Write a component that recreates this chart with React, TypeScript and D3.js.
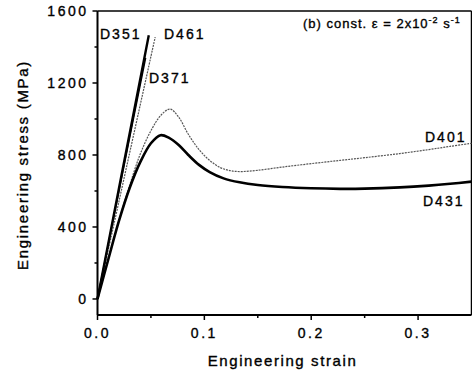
import React from "react";
import * as d3 from "d3";

type Pt = [number, number];

const d351: Pt[] = [[0, 0], [0.02, 612], [0.048, 1465]];
const d371: Pt[] = [[0, 0], [0.02, 598], [0.045, 1340]];
const d461: Pt[] = [[0, 0], [0.02, 540], [0.054, 1455]];
const d401: Pt[] = [
  [0, 0], [0.01, 220], [0.02, 435], [0.03, 630], [0.04, 805], [0.05, 935],
  [0.06, 1025], [0.068, 1055], [0.076, 1010], [0.085, 915], [0.095, 830],
  [0.105, 770], [0.115, 730], [0.125, 712], [0.135, 708], [0.15, 715],
  [0.173, 733], [0.2, 752], [0.227, 770], [0.25, 785], [0.283, 808],
  [0.31, 830], [0.33, 848], [0.35, 865],
];
const d431: Pt[] = [
  [0, 0], [0.01, 218], [0.02, 432], [0.03, 615], [0.04, 760], [0.05, 865],
  [0.059, 910], [0.067, 895], [0.076, 855], [0.085, 800], [0.095, 745],
  [0.105, 705], [0.118, 670], [0.133, 648], [0.15, 633], [0.173, 622],
  [0.2, 615], [0.227, 612], [0.25, 613], [0.283, 620], [0.31, 630],
  [0.33, 640], [0.35, 652],
];

const xTicks = [0, 0.1, 0.2, 0.3];
const xMinor = [0.05, 0.15, 0.25];
const yTicks = [0, 400, 800, 1200, 1600];
const yMinor = [200, 600, 1000, 1400];

const FONT = "'Liberation Sans', Arial, sans-serif";

export default function App() {
  const x = d3.scaleLinear().domain([0, 0.35]).range([97.5, 471.5]);
  const y = d3.scaleLinear().domain([-89, 1600]).range([315, 11]);
  const line = d3
    .line<Pt>()
    .x((d) => x(d[0]))
    .y((d) => y(d[1]))
    .curve(d3.curveCatmullRom.alpha(0.5));

  const x0 = x(0);
  const yb = y(-89);
  const xr = x(0.35);
  const yt = y(1600);

  const txt = { fill: "#000", stroke: "#000", strokeWidth: 0.35 };

  return (
    <svg
      width={472}
      height={372}
      style={{ position: "absolute", left: 0, top: 0, background: "#fff" }}
      fontFamily={FONT}
    >
      <rect x={0} y={0} width={472} height={372} fill="#fff" />
      {/* frame */}
      <line x1={x0} x2={xr} y1={yt} y2={yt} stroke="#000" strokeWidth={1.5} />
      <line x1={xr} x2={xr} y1={yt} y2={yb} stroke="#000" strokeWidth={1.5} />
      <line x1={x0} x2={xr} y1={yb} y2={yb} stroke="#000" strokeWidth={2} />
      <line x1={x0} x2={x0} y1={yt} y2={yb} stroke="#000" strokeWidth={2} />

      {/* x ticks */}
      {xTicks.map((t) => (
        <g key={"xt" + t}>
          <line x1={x(t)} x2={x(t)} y1={yb} y2={yb + 5} stroke="#000" strokeWidth={1.5} />
          <text
            x={x(t)}
            y={yb + 23}
            textAnchor="middle"
            fontSize={14}
            letterSpacing={2.5}
            {...txt}
          >
            {t.toFixed(1)}
          </text>
        </g>
      ))}
      {xMinor.map((t) => (
        <line key={"xm" + t} x1={x(t)} x2={x(t)} y1={yb} y2={yb + 3} stroke="#000" strokeWidth={1.5} />
      ))}

      {/* y ticks */}
      {yTicks.map((t) => (
        <g key={"yt" + t}>
          <line x1={x0 - 5} x2={x0} y1={y(t)} y2={y(t)} stroke="#000" strokeWidth={1.5} />
          <text
            x={x0 - 9}
            y={y(t) + 5}
            textAnchor="end"
            fontSize={14}
            letterSpacing={2.5}
            {...txt}
          >
            {t}
          </text>
        </g>
      ))}
      {yMinor.map((t) => (
        <line key={"ym" + t} x1={x0 - 3} x2={x0} y1={y(t)} y2={y(t)} stroke="#000" strokeWidth={1.5} />
      ))}

      {/* axis titles */}
      <text
        x={x(0.175) - 2}
        y={366}
        textAnchor="middle"
        fontSize={15}
        letterSpacing={1.6}
        {...txt}
      >
        Engineering strain
      </text>
      <text
        transform={`translate(28,165) rotate(-90)`}
        textAnchor="middle"
        fontSize={15}
        letterSpacing={1.7}
        {...txt}
      >
        Engineering stress (MPa)
      </text>

      {/* curves */}
      <path d={line(d401) || ""} fill="none" stroke="#555" strokeWidth={1.2} strokeDasharray="2,1" />
      <path d={line(d461) || ""} fill="none" stroke="#555" strokeWidth={1.2} strokeDasharray="2,1" />
      <path d={line(d371) || ""} fill="none" stroke="#000" strokeWidth={1.6} />
      <path d={line(d351) || ""} fill="none" stroke="#000" strokeWidth={2.4} />
      <path d={line(d431) || ""} fill="none" stroke="#000" strokeWidth={2.6} />

      {/* labels */}
      <g fontSize={14} letterSpacing={2} {...txt}>
        <text x={100} y={39}>D351</text>
        <text x={164} y={39}>D461</text>
        <text x={149} y={83}>D371</text>
        <text x={425} y={142}>D401</text>
        <text x={423} y={206}>D431</text>
      </g>

      <text x={303} y={28} fontSize={13} letterSpacing={1} {...txt}>
        (b) const. ε = 2x10
        <tspan dy={-5} fontSize={9}>-2</tspan>
        <tspan dy={5}> s</tspan>
        <tspan dy={-5} fontSize={9}>-1</tspan>
      </text>
    </svg>
  );
}
